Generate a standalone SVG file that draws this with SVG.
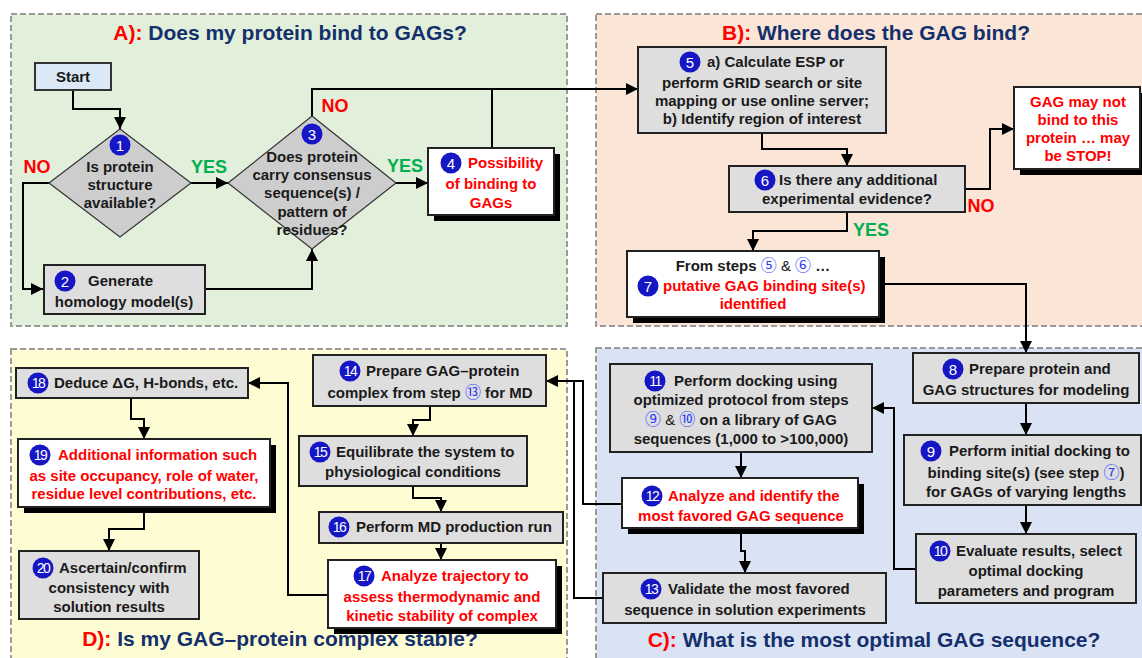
<svg xmlns="http://www.w3.org/2000/svg" width="1142" height="658" viewBox="0 0 1142 658">
<style>
.panel{stroke:#9a9a9a;stroke-width:2;stroke-dasharray:6 3}
.box{fill:#dedede;stroke:#222;stroke-width:2}
.wbox{fill:#fff;stroke:#222;stroke-width:2}
.shadow{fill:#000}
.dia{fill:#cdcdcd;stroke:#333;stroke-width:1.2}
.t{font-family:"Liberation Sans",Arial,sans-serif;font-weight:bold;font-size:15px;fill:#1a1a1a}
.c{text-anchor:middle}
.red{fill:#ff0000}
.title{font-family:"Liberation Sans",Arial,sans-serif;font-weight:bold;font-size:21px;fill:#14306c;text-anchor:middle}
.lbl{font-family:"Liberation Sans",Arial,sans-serif;font-weight:bold;font-size:18px;text-anchor:middle}
.badge{fill:#1616c4}
.bn{font-family:"Liberation Sans",Arial,sans-serif;font-size:15px;fill:#fff;text-anchor:middle}
.bn2{font-family:"Liberation Sans",Arial,sans-serif;font-size:14px;fill:#fff;text-anchor:middle;letter-spacing:-1.5px}
.circ{font-family:"Noto Sans CJK JP","DejaVu Sans",sans-serif;font-weight:normal;font-size:16px;fill:#2a3cff}
.amp{font-weight:normal}
.conn path{fill:none;stroke:#000;stroke-width:2}
</style>
<defs>
<marker id="ah" markerUnits="userSpaceOnUse" markerWidth="12" markerHeight="12" viewBox="0 0 10 10" refX="10" refY="5" orient="auto">
<path d="M0,0 L10,5 L0,10 z" fill="#000"/>
</marker>
</defs>

<!-- panels -->
<g id="panelA"><rect class="panel" x="11" y="14" width="556" height="312" fill="#e2efda"/>
<text class="title" x="290" y="40"><tspan fill="#ff0000">A):</tspan> Does my protein bind to GAGs?</text></g>
<g id="panelB"><rect class="panel" x="596" y="14" width="560" height="312" fill="#fbe5d6"/>
<text class="title" x="876" y="40"><tspan fill="#ff0000">B):</tspan> Where does the GAG bind?</text></g>
<g id="panelD"><rect class="panel" x="11" y="349" width="556" height="320" fill="#fdfcd2"/>
<text class="title" x="280" y="646"><tspan fill="#ff0000">D):</tspan> Is my GAG–protein complex stable?</text></g>
<g id="panelC"><rect class="panel" x="596" y="348" width="560" height="320" fill="#dae3f3"/>
<text class="title" x="874" y="647"><tspan fill="#ff0000">C):</tspan> What is the most optimal GAG sequence?</text></g>

<!-- connectors -->
<g id="connectors" class="conn">
<path d="M73,90 V109 H120 V129" marker-end="url(#ah)"/>
<path d="M191,183 H228" marker-end="url(#ah)"/>
<path d="M49,183 H23 V289 H43" marker-end="url(#ah)"/>
<path d="M205,289 H312 V249" marker-end="url(#ah)"/>
<path d="M396,183 H428" marker-end="url(#ah)"/>
<path d="M312,116 V89 H638" marker-end="url(#ah)"/>
<path d="M492,148 V89"/>
<path d="M762,133 V149 H847 V166" marker-end="url(#ah)"/>
<path d="M965,189 H990 V129 H1014" marker-end="url(#ah)"/>
<path d="M847,212 V231 H753 V251" marker-end="url(#ah)"/>
<path d="M879,284 H1026 V353" marker-end="url(#ah)"/>
<path d="M1026,403 V435" marker-end="url(#ah)"/>
<path d="M1026,505 V534" marker-end="url(#ah)"/>
<path d="M916,569 H894 V408 H872" marker-end="url(#ah)"/>
<path d="M741,452 V478" marker-end="url(#ah)"/>
<path d="M741,528 V551 H745 V573" marker-end="url(#ah)"/>
<path d="M622,504 H583 V381 H546" marker-end="url(#ah)"/>
<path d="M603,598 H574 V381"/>
<path d="M430,406 V420 H413 V436" marker-end="url(#ah)"/>
<path d="M413,486 V498 H441 V512" marker-end="url(#ah)"/>
<path d="M441,543 V560" marker-end="url(#ah)"/>
<path d="M328,595 H288 V383 H248" marker-end="url(#ah)"/>
<path d="M131,398 V419 H144 V439" marker-end="url(#ah)"/>
<path d="M144,507 V529 H109 V551" marker-end="url(#ah)"/>
</g>

<!-- edge labels -->
<g id="labels">
<text class="lbl" x="37" y="173" fill="#ff0000">NO</text>
<text class="lbl" x="209" y="173" fill="#00b050">YES</text>
<text class="lbl" x="335" y="112" fill="#ff0000">NO</text>
<text class="lbl" x="405" y="172" fill="#00b050">YES</text>
<text class="lbl" x="981" y="212" fill="#ff0000">NO</text>
<text class="lbl" x="871" y="236" fill="#00b050">YES</text>
</g>

<!-- Panel A nodes -->
<g id="start"><rect x="35" y="63" width="76" height="27" fill="#dbe9f6" stroke="#333" stroke-width="2"/>
<text class="t c" x="73" y="82">Start</text></g>

<g id="n1"><polygon class="dia" points="120,129 191,183 120,237 49,183"/>
<circle class="badge" cx="120" cy="145" r="10.5"/><text class="bn" x="120" y="150.5">1</text>
<text class="t c" x="120" y="172">Is protein</text>
<text class="t c" x="120" y="190">structure</text>
<text class="t c" x="120" y="208">available?</text></g>

<g id="n2"><rect class="box" x="44" y="265" width="161" height="49"/>
<circle class="badge" cx="65" cy="281" r="10.5"/><text class="bn" x="65" y="286.5">2</text>
<text class="t" x="88" y="286">Generate</text>
<text class="t c" x="124" y="307">homology model(s)</text></g>

<g id="n3"><polygon class="dia" points="312,116 396,183 312,249 228,183"/>
<circle class="badge" cx="312" cy="134" r="10.5"/><text class="bn" x="312" y="139.5">3</text>
<text class="t c" x="312" y="162">Does protein</text>
<text class="t c" x="312" y="180">carry consensus</text>
<text class="t c" x="312" y="198">sequence(s) /</text>
<text class="t c" x="312" y="217">pattern of</text>
<text class="t c" x="312" y="235">residues?</text></g>

<g id="n4"><rect class="shadow" x="434" y="154" width="126" height="67"/>
<rect class="wbox" x="428" y="148" width="126" height="67"/>
<circle class="badge" cx="451" cy="163" r="10.5"/><text class="bn" x="451" y="168.5">4</text>
<text class="t red" x="468" y="168">Possibility</text>
<text class="t c red" x="491" y="189">of binding to</text>
<text class="t c red" x="491" y="208">GAGs</text></g>

<!-- Panel B nodes -->
<g id="n5"><rect class="box" x="638" y="47" width="248" height="86"/>
<circle class="badge" cx="690" cy="62" r="10.5"/><text class="bn" x="690" y="67.5">5</text>
<text class="t" x="707" y="67">a) Calculate ESP or</text>
<text class="t c" x="762" y="88">perform GRID search or site</text>
<text class="t c" x="762" y="106">mapping or use online server;</text>
<text class="t c" x="762" y="124">b) Identify region of interest</text></g>

<g id="n6"><rect class="box" x="729" y="166" width="236" height="46"/>
<circle class="badge" cx="765" cy="180" r="10.5"/><text class="bn" x="765" y="185.5">6</text>
<text class="t" x="779" y="185">Is there any additional</text>
<text class="t c" x="847" y="204">experimental evidence?</text></g>

<g id="stop"><rect class="shadow" x="1020" y="93" width="126" height="82"/>
<rect class="wbox" x="1014" y="87" width="126" height="82"/>
<text class="t c red" x="1078" y="107">GAG may not</text>
<text class="t c red" x="1078" y="125">bind to this</text>
<text class="t c red" x="1078" y="143">protein … may</text>
<text class="t c red" x="1078" y="161">be STOP!</text></g>

<g id="n7"><rect class="shadow" x="633" y="257" width="252" height="66"/>
<rect class="wbox" x="627" y="251" width="252" height="66"/>
<text class="t c" x="753" y="271">From steps <tspan class="circ">⑤</tspan> <tspan class="amp">&amp;</tspan> <tspan class="circ">⑥</tspan> …</text>
<circle class="badge" cx="648" cy="286" r="10.5"/><text class="bn" x="648" y="291.5">7</text>
<text class="t red" x="663" y="291">putative GAG binding site(s)</text>
<text class="t c red" x="753" y="309">identified</text></g>

<!-- Panel C nodes -->
<g id="n8"><rect class="box" x="913" y="353" width="226" height="50"/>
<circle class="badge" cx="953" cy="369" r="10.5"/><text class="bn" x="953" y="374.5">8</text>
<text class="t" x="969" y="374">Prepare protein and</text>
<text class="t c" x="1026" y="395">GAG structures for modeling</text></g>

<g id="n9"><rect class="box" x="904" y="435" width="237" height="70"/>
<circle class="badge" cx="931" cy="451" r="10.5"/><text class="bn" x="931" y="456.5">9</text>
<text class="t" x="949" y="456">Perform initial docking to</text>
<text class="t c" x="1026" y="478">binding site(s) (see step <tspan class="circ">⑦</tspan>)</text>
<text class="t c" x="1026" y="497">for GAGs of varying lengths</text></g>

<g id="n10"><rect class="box" x="916" y="534" width="220" height="69"/>
<circle class="badge" cx="940" cy="551" r="10.5"/><text class="bn2" x="940" y="556">10</text>
<text class="t" x="956" y="556">Evaluate results, select</text>
<text class="t c" x="1026" y="576">optimal docking</text>
<text class="t c" x="1026" y="596">parameters and program</text></g>

<g id="n11"><rect class="box" x="610" y="364" width="262" height="88"/>
<circle class="badge" cx="655" cy="381" r="10.5"/><text class="bn2" x="655" y="386">11</text>
<text class="t" x="674" y="386">Perform docking using</text>
<text class="t c" x="741" y="405">optimized protocol from steps</text>
<text class="t c" x="741" y="425"><tspan class="circ">⑨</tspan> <tspan class="amp">&amp;</tspan> <tspan class="circ">⑩</tspan>  on a library of GAG</text>
<text class="t c" x="741" y="444">sequences (1,000 to &gt;100,000)</text></g>

<g id="n12"><rect class="shadow" x="628" y="484" width="236" height="50"/>
<rect class="wbox" x="622" y="478" width="236" height="50"/>
<circle class="badge" cx="652" cy="496" r="10.5"/><text class="bn2" x="652" y="501">12</text>
<text class="t red" x="668" y="501">Analyze and identify the</text>
<text class="t c red" x="741" y="521">most favored GAG sequence</text></g>

<g id="n13"><rect class="box" x="603" y="573" width="283" height="50"/>
<circle class="badge" cx="651" cy="589" r="10.5"/><text class="bn2" x="651" y="594">13</text>
<text class="t" x="668" y="594">Validate the most favored</text>
<text class="t c" x="745" y="615">sequence in solution experiments</text></g>

<!-- Panel D nodes -->
<g id="n14"><rect class="box" x="313" y="355" width="233" height="51"/>
<circle class="badge" cx="350" cy="371" r="10.5"/><text class="bn2" x="350" y="376">14</text>
<text class="t" x="366" y="376">Prepare GAG–protein</text>
<text class="t c" x="430" y="398">complex from step <tspan class="circ">⑬</tspan> for MD</text></g>

<g id="n15"><rect class="box" x="299" y="436" width="228" height="50"/>
<circle class="badge" cx="320" cy="452" r="10.5"/><text class="bn2" x="320" y="457">15</text>
<text class="t" x="336" y="457">Equilibrate the system to</text>
<text class="t c" x="413" y="477">physiological conditions</text></g>

<g id="n16"><rect class="box" x="319" y="512" width="244" height="31"/>
<circle class="badge" cx="339" cy="527" r="10.5"/><text class="bn2" x="339" y="532">16</text>
<text class="t" x="356" y="532">Perform MD production run</text></g>

<g id="n17"><rect class="shadow" x="334" y="566" width="228" height="68"/>
<rect class="wbox" x="328" y="560" width="228" height="68"/>
<circle class="badge" cx="364" cy="576" r="10.5"/><text class="bn2" x="364" y="581">17</text>
<text class="t red" x="381" y="581">Analyze trajectory to</text>
<text class="t c red" x="442" y="602">assess thermodynamic and</text>
<text class="t c red" x="442" y="621">kinetic stability of complex</text></g>

<g id="n18"><rect class="box" x="16" y="368" width="232" height="30"/>
<circle class="badge" cx="38" cy="383" r="10.5"/><text class="bn2" x="38" y="388">18</text>
<text class="t" x="54" y="388">Deduce ΔG, H-bonds, etc.</text></g>

<g id="n19"><rect class="shadow" x="24" y="445" width="252" height="68"/>
<rect class="wbox" x="18" y="439" width="252" height="68"/>
<circle class="badge" cx="40" cy="455" r="10.5"/><text class="bn2" x="40" y="460">19</text>
<text class="t red" x="58" y="460">Additional information such</text>
<text class="t c red" x="144" y="481">as site occupancy, role of water,</text>
<text class="t c red" x="144" y="499">residue level contributions, etc.</text></g>

<g id="n20"><rect class="box" x="19" y="551" width="180" height="68"/>
<circle class="badge" cx="43" cy="568" r="10.5"/><text class="bn2" x="43" y="573">20</text>
<text class="t" x="59" y="573">Ascertain/confirm</text>
<text class="t c" x="109" y="593">consistency with</text>
<text class="t c" x="109" y="612">solution results</text></g>
</svg>
